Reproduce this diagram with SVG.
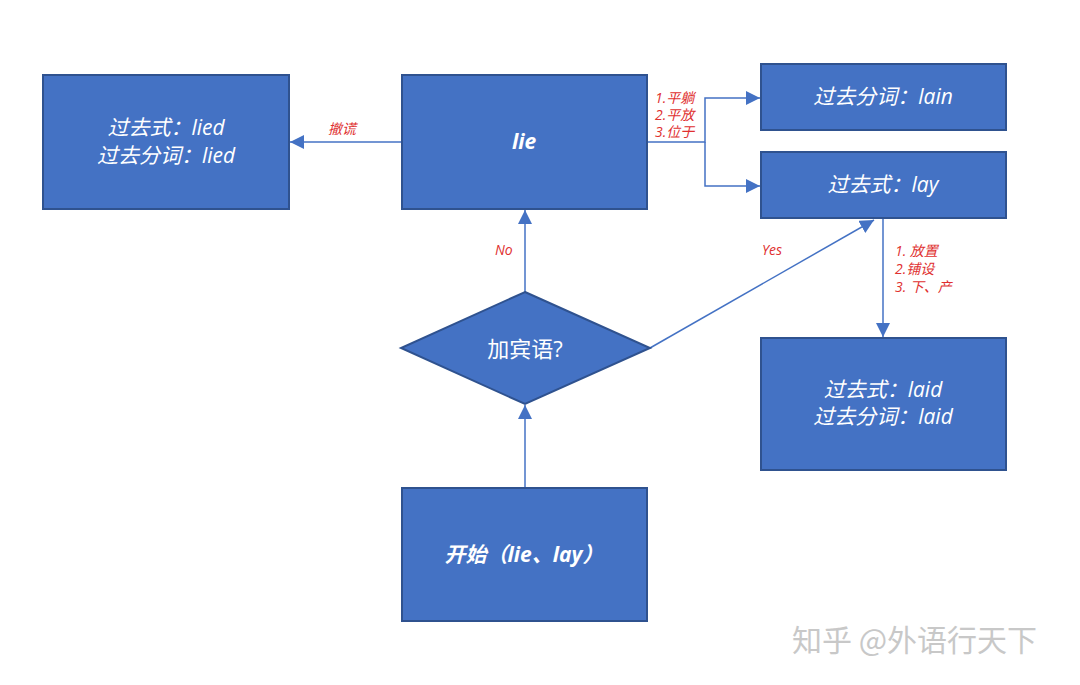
<svg xmlns="http://www.w3.org/2000/svg" width="1080" height="685" viewBox="0 0 1080 685">
<defs>
<style>
.box{fill:#4472C4;stroke:#2F528F;stroke-width:2}
.t{fill:#fff;font-family:"Open Sans","Noto Sans CJK SC",sans-serif;font-size:21px;font-style:italic;text-anchor:middle}
.b{font-weight:bold}
.c{fill:none;stroke:#4472C4;stroke-width:1.5}
.lbl{fill:#E03030;font-family:"Open Sans","Noto Sans CJK SC",sans-serif;font-size:14px;font-style:italic}
</style>
<marker id="ah2" viewBox="0 0 10 10" refX="10" refY="5" markerWidth="14" markerHeight="14" markerUnits="userSpaceOnUse" orient="auto">
<path d="M0,0 L10,5 L0,10 Z" fill="#4472C4"/>
</marker>
</defs>
<rect width="1080" height="685" fill="#fff"/>
<g id="connectors">
<line class="c" x1="402" y1="142" x2="290" y2="142" marker-end="url(#ah2)"/>
<polyline class="c" points="647,142 705,142 705,98 760,98" marker-end="url(#ah2)"/>
<polyline class="c" points="705,142 705,186 760,186" marker-end="url(#ah2)"/>
<line class="c" x1="525" y1="292" x2="525" y2="210" marker-end="url(#ah2)"/>
<line class="c" x1="650" y1="348" x2="874" y2="220" marker-end="url(#ah2)"/>
<line class="c" x1="883" y1="218" x2="883" y2="337" marker-end="url(#ah2)"/>
<line class="c" x1="525" y1="488" x2="525" y2="405" marker-end="url(#ah2)"/>
<text class="lbl" x="328" y="134">撤谎</text>
<text class="lbl" x="655" y="103">1.平躺</text>
<text class="lbl" x="655" y="120">2.平放</text>
<text class="lbl" x="655" y="137">3.位于</text>
<text class="lbl" x="495" y="255">No</text>
<text class="lbl" x="762" y="255">Yes</text>
<text class="lbl" x="895" y="256">1. 放置</text>
<text class="lbl" x="895" y="274">2.铺设</text>
<text class="lbl" x="895" y="292">3. 下、产</text>
</g>
<g id="node-lied">
<rect class="box" x="43" y="75" width="246" height="134"/>
<text class="t" x="166" y="135">过去式：lied</text>
<text class="t" x="166" y="163">过去分词：lied</text>
</g>
<g id="node-lie">
<rect class="box" x="402" y="75" width="245" height="134"/>
<text class="t b" x="524" y="149">lie</text>
</g>
<g id="node-lain">
<rect class="box" x="761" y="64" width="245" height="66"/>
<text class="t" x="883" y="104">过去分词：lain</text>
</g>
<g id="node-lay">
<rect class="box" x="761" y="152" width="245" height="66"/>
<text class="t" x="883" y="192">过去式：lay</text>
</g>
<g id="node-laid">
<rect class="box" x="761" y="338" width="245" height="132"/>
<text class="t" x="883" y="397">过去式：laid</text>
<text class="t" x="883" y="424">过去分词：laid</text>
</g>
<g id="node-decision">
<polygon class="box" points="525,292 650,348 525,404 401,348"/>
<text class="t" style="font-style:normal;font-size:22px" x="525" y="357">加宾语?</text>
</g>
<g id="node-start">
<rect class="box" x="402" y="488" width="245" height="133"/>
<text class="t b" x="524" y="562">开始（lie、lay）</text>
</g>
<text x="792" y="651" fill="#c8c8c8" font-family="'Noto Sans CJK SC',sans-serif" font-size="30">知乎 @外语行天下</text>
</svg>
